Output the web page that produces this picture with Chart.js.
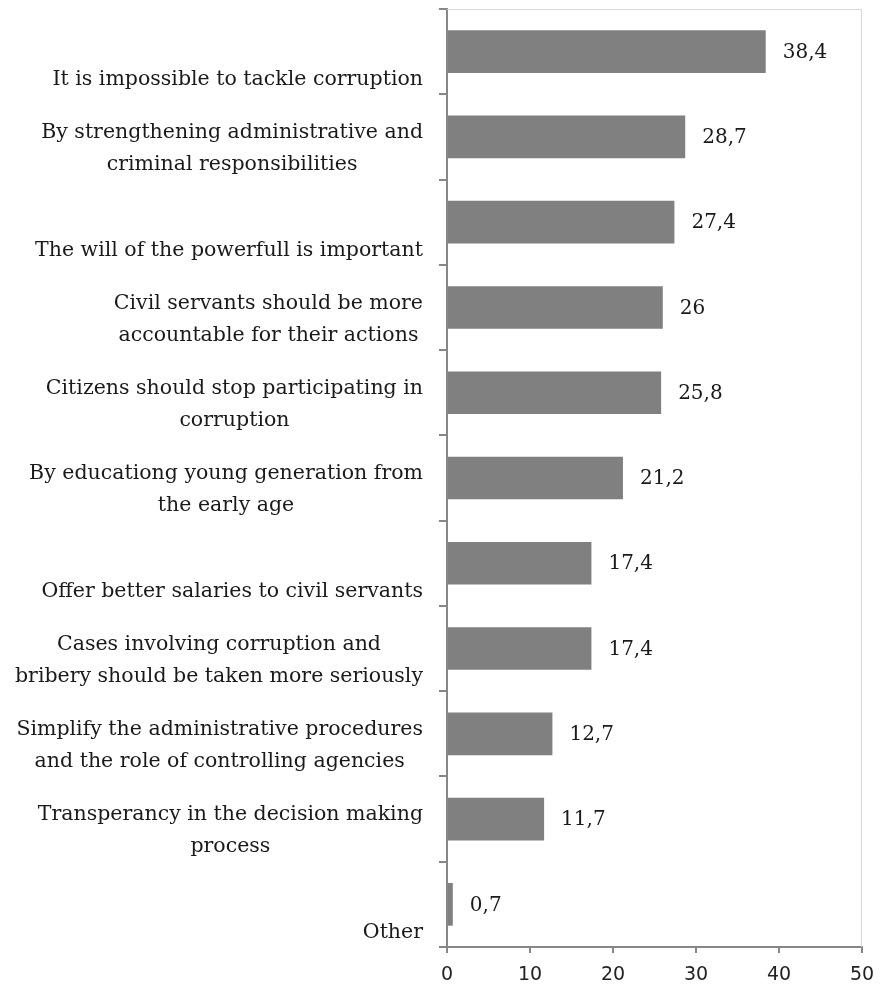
<!DOCTYPE html>
<html lang="en">
<head>
<meta charset="utf-8">
<title>How to tackle corruption</title>
<script src="https://cdn.jsdelivr.net/npm/chart.js@4"></script>
<style>
    html, body { margin: 0; padding: 0; background: #fff; }
    #wrap { width: 881px; height: 988px; position: relative; }
</style>
</head>
<body>
<div id="wrap"><canvas id="answersChart"></canvas></div>
<script>
// answers, top to bottom; single-line answers keep an empty first line like the original
const answers = [
    ['', 'It is impossible to tackle corruption'],
    ['By strengthening administrative and', 'criminal responsibilities'],
    ['', 'The will of the powerfull is important'],
    ['Civil servants should be more', 'accountable for their actions'],
    ['Citizens should stop participating in', 'corruption'],
    ['By educationg young generation from', 'the early age'],
    ['', 'Offer better salaries to civil servants'],
    ['Cases involving corruption and', 'bribery should be taken more seriously'],
    ['Simplify the administrative procedures', 'and the role of controlling agencies'],
    ['Transperancy in the decision making', 'process'],
    ['', 'Other']
];
const shares = [38.4, 28.7, 27.4, 26, 25.8, 21.2, 17.4, 17.4, 12.7, 11.7, 0.7];
const axisTicks = [0, 10, 20, 30, 40, 50];

(function () {
    const serif = '"DejaVu Serif", "Liberation Serif", serif';
    const axisGrey = '#878787';

    const fmt = v => String(v).replace('.', ',');

    // category labels: block right-aligned to the axis, lines centred inside the block
    const answerLabels = {
        id: 'answerLabels',
        afterDraw(chart) {
            const y = chart.scales.y;
            const ctx = chart.ctx;
            const right = y.right - 24;
            ctx.save();
            ctx.font = '20.5px ' + serif;
            ctx.fillStyle = '#1a1a1a';
            ctx.textAlign = 'center';
            ctx.textBaseline = 'middle';
            answers.forEach((lines, i) => {
                const cy = y.getPixelForTick(i);
                const w = Math.max(...lines.map(l => ctx.measureText(l).width));
                const cx = right - w / 2;
                ctx.fillText(lines[0], cx, cy - 4);
                ctx.fillText(lines[1], cx, cy + 28);
            });
            ctx.restore();
        }
    };

    const valueLabels = {
        id: 'valueLabels',
        afterDatasetsDraw(chart) {
            const ctx = chart.ctx;
            const meta = chart.getDatasetMeta(0);
            ctx.save();
            ctx.font = '20px ' + serif;
            ctx.fillStyle = '#1a1a1a';
            ctx.textAlign = 'left';
            ctx.textBaseline = 'middle';
            meta.data.forEach((bar, i) => {
                ctx.fillText(fmt(shares[i]), bar.x + 17, bar.y + 1);
            });
            ctx.restore();
        }
    };

    const plotFrame = {
        id: 'plotFrame',
        beforeDatasetsDraw(chart) {
            const { ctx, chartArea: a } = chart;
            ctx.save();
            ctx.strokeStyle = '#d9d9d9';
            ctx.lineWidth = 1;
            ctx.beginPath();
            ctx.moveTo(a.left, a.top + 0.5);
            ctx.lineTo(a.right - 0.5, a.top + 0.5);
            ctx.lineTo(a.right - 0.5, a.bottom);
            ctx.stroke();
            ctx.restore();
        }
    };

    const ctx = document.getElementById('answersChart').getContext('2d');
    new Chart(ctx, {
        type: 'bar',
        data: {
            labels: answers,
            datasets: [{
                data: shares,
                backgroundColor: '#808080',
                borderWidth: 0,
                barPercentage: 0.5,
                categoryPercentage: 1
            }]
        },
        options: {
            indexAxis: 'y',
            responsive: true,
            maintainAspectRatio: false,
            animation: false,
            layout: { padding: { top: 9, right: 19, bottom: 0, left: 0 } },
            plugins: {
                legend: { display: false },
                tooltip: { enabled: false }
            },
            scales: {
                x: {
                    min: 0,
                    max: 50,
                    afterBuildTicks: scale => { scale.ticks = axisTicks.map(v => ({ value: v })); },
                    afterFit: scale => {
                        scale.height = 41;
                        scale.paddingLeft = 0;
                        scale.paddingRight = 0;
                    },
                    border: { color: axisGrey, width: 2 },
                    grid: { drawOnChartArea: false, drawTicks: true, tickLength: 6, color: axisGrey, lineWidth: 2 },
                    ticks: {
                        padding: 11,
                        color: '#222',
                        font: { family: '"DejaVu Sans", Verdana, sans-serif', size: 19 }
                    }
                },
                y: {
                    afterFit: scale => { scale.width = 447; },
                    border: { color: axisGrey, width: 2 },
                    grid: { drawOnChartArea: false, drawTicks: true, tickLength: 8, color: axisGrey, lineWidth: 2 },
                    ticks: { display: false }
                }
            }
        },
        plugins: [plotFrame, valueLabels, answerLabels]
    });
})();
</script>
</body>
</html>
